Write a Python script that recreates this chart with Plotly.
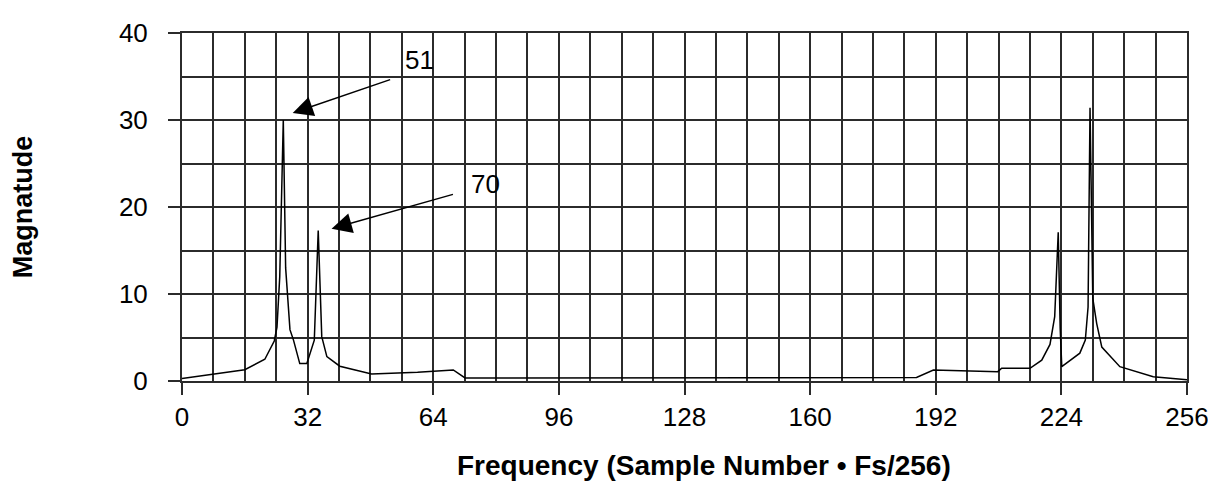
import plotly.graph_objects as go

# Spectrum (sample number vs magnitude)
freq = [0, 8, 16, 21.1, 23.5, 24.2, 24.9, 25.8, 26.4, 27.5, 28.4, 30.0, 31.8,
        33.7, 34.7, 35.6, 36.9, 40.2, 48.3, 60, 69.1, 72.1, 120, 187.1,
        191.4, 203.3, 207.8, 208.8, 216.0, 219.0, 221.1, 222.3, 222.9, 223.2,
        223.7, 224.1, 228.7, 230.1, 230.8, 231.3, 232.0, 233.0, 234.3, 238.9,
        247.4, 255.0, 256]
mag = [0.3, 0.8, 1.3, 2.5, 4.6, 6.2, 12.0, 30.0, 13.0, 5.9, 4.7, 2.0, 2.0,
       4.7, 17.3, 5.1, 2.8, 1.7, 0.8, 1.0, 1.27, 0.35, 0.35, 0.4,
       1.27, 1.07, 1.07, 1.46, 1.46, 2.4, 4.2, 7.4, 13.0, 17.1,
       6.0, 1.65, 3.2, 4.7, 8.5, 31.4, 9.5, 6.6, 3.9, 1.65,
       0.5, 0.2, 0.15]

x_ticks = [0, 32, 64, 96, 128, 160, 192, 224, 256]
y_ticks = [0, 10, 20, 30, 40]

x_title = "Frequency (Sample Number • Fs/256)"
y_title = "Magnatude"

# annotation labels: text, arrow head (x, y), arrow tail (x, y), text position (x, y)
ann_text = ["51", "70"]
ann_head = [(28.2, 30.8), (38.1, 17.5)]
ann_tail = [(53.4, 34.7), (69.4, 21.5)]
ann_pos = [(60.6, 36.9), (77.2, 22.6)]

GRID = "#2b2b2b"
FONT = "Liberation Sans, Arial, sans-serif"

fig = go.Figure()
fig.add_trace(go.Scatter(x=freq, y=mag, mode="lines",
                         line=dict(color="black", width=1.5),
                         hoverinfo="skip", showlegend=False))

annotations = []
for t, h, tl, p in zip(ann_text, ann_head, ann_tail, ann_pos):
    annotations.append(dict(x=h[0], y=h[1], ax=tl[0], ay=tl[1],
                            xref="x", yref="y", axref="x", ayref="y",
                            text="", showarrow=True, arrowhead=2,
                            arrowsize=2.7, arrowwidth=1.5, arrowcolor="black"))
    annotations.append(dict(x=p[0], y=p[1], xref="x", yref="y", text=t,
                            showarrow=False,
                            font=dict(family=FONT, size=26, color="black")))

# x-axis title (placed slightly right of centre, as in the reference)
annotations.append(dict(x=0.5, y=0, xref="paper", yref="paper",
                        xanchor="center", yanchor="middle",
                        xshift=19, yshift=-84, showarrow=False,
                        text="<b>" + x_title + "</b>",
                        font=dict(family=FONT, size=28, color="black")))

fig.update_layout(
    width=1216, height=482,
    margin=dict(l=174, r=37, t=25, b=109, autoexpand=False),
    paper_bgcolor="white", plot_bgcolor="white",
    font=dict(family=FONT, color="black"),
    annotations=annotations,
    xaxis=dict(range=[0, 256], tickvals=x_ticks, ticks="outside", ticklen=12,
               tickwidth=2, tickcolor=GRID,
               showgrid=True, gridcolor=GRID, gridwidth=2,
               minor=dict(dtick=8, showgrid=True, gridcolor=GRID, gridwidth=2),
               showline=True, linecolor=GRID, linewidth=2, mirror=True,
               zeroline=False, tickfont=dict(size=26, family=FONT),
               automargin=False),
    yaxis=dict(range=[0, 40], tickvals=y_ticks, ticks="outside", ticklen=12,
               tickwidth=2, tickcolor=GRID,
               showgrid=True, gridcolor=GRID, gridwidth=2,
               minor=dict(dtick=5, showgrid=True, gridcolor=GRID, gridwidth=2),
               showline=True, linecolor=GRID, linewidth=2, mirror=True,
               zeroline=False, tickfont=dict(size=26, family=FONT),
               ticklabelstandoff=15, automargin=False,
               title=dict(text="<b>" + y_title + "</b>",
                          font=dict(size=27, family=FONT), standoff=83)),
)

fig.write_html("out.html")
